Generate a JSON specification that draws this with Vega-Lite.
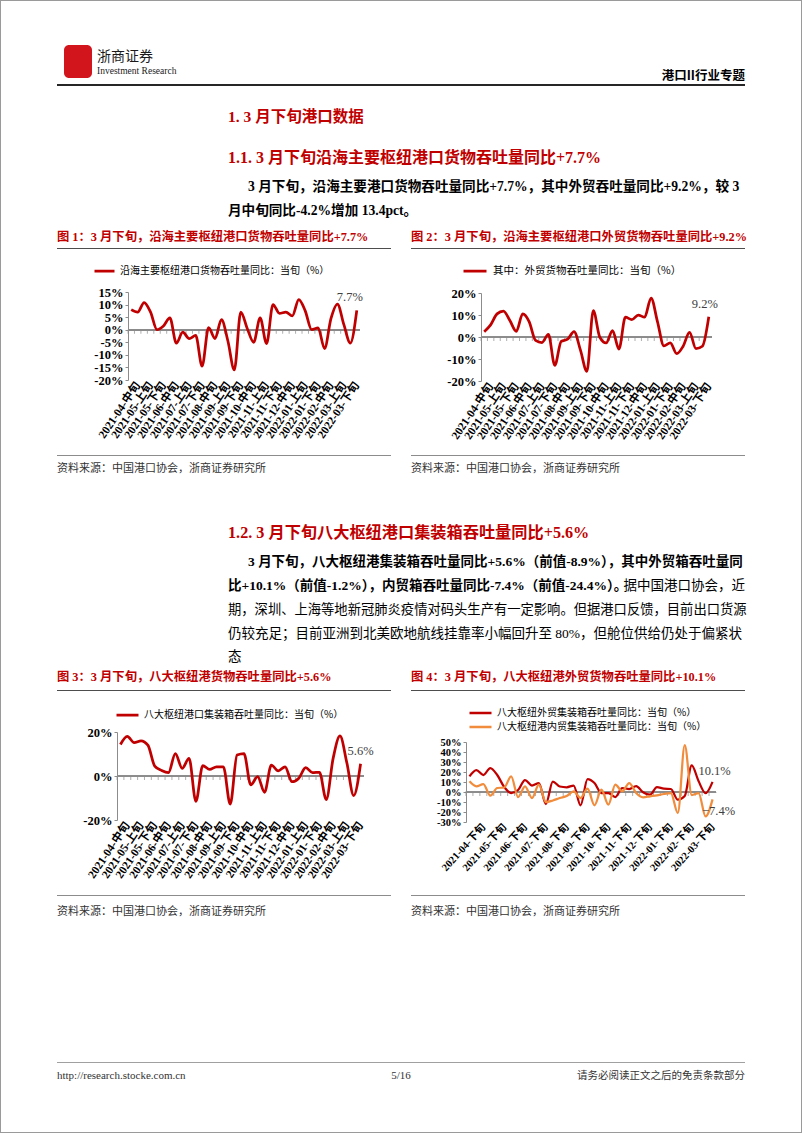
{
"$schema": "https://vega.github.io/schema/vega-lite/v6.json",
"background": "white",
"padding": 0,
"data": {"values": []},
"datasets": {"m": [
{"d":"2021-04-上旬","a":8.0,"b":2.4,"c":14.3,"w":15.7,"n":10.7},
{"d":"2021-04-中旬","a":7.0,"b":5.5,"c":18.0,"w":22,"n":5.7},
{"d":"2021-04-下旬","a":10.8,"b":10.5,"c":15.2,"w":17,"n":8},
{"d":"2021-05-上旬","a":7.0,"b":11.8,"c":16.0,"w":24,"n":-3.7},
{"d":"2021-05-中旬","a":0.0,"b":7.5,"c":14.0,"w":17,"n":4},
{"d":"2021-05-下旬","a":1.5,"b":2.6,"c":4.5,"w":5,"n":4.5},
{"d":"2021-06-上旬","a":4.7,"b":10.5,"c":2.5,"w":-1,"n":15.7},
{"d":"2021-06-中旬","a":-5.3,"b":7.0,"c":1.5,"w":2,"n":-5},
{"d":"2021-06-下旬","a":-1.0,"b":-1.5,"c":10.2,"w":12,"n":5.7},
{"d":"2021-07-上旬","a":-3.5,"b":-2.5,"c":3.5,"w":6.5,"n":-6},
{"d":"2021-07-中旬","a":-2.3,"b":1.2,"c":8.0,"w":9,"n":7.3},
{"d":"2021-07-下旬","a":-14.5,"b":-12.9,"c":-11.5,"w":-12,"n":-10},
{"d":"2021-08-上旬","a":0.8,"b":-2.0,"c":4.7,"w":10.5,"n":-8.5},
{"d":"2021-08-中旬","a":-3.5,"b":-1.0,"c":3.0,"w":5.5,"n":-6},
{"d":"2021-08-下旬","a":4.0,"b":2.5,"c":4.2,"w":4.7,"n":-4},
{"d":"2021-09-上旬","a":-4.5,"b":-6.0,"c":4.2,"w":6.5,"n":0.7},
{"d":"2021-09-中旬","a":-16.0,"b":-15.6,"c":-12.8,"w":-13.3,"n":-6},
{"d":"2021-09-下旬","a":7.0,"b":12.0,"c":9.5,"w":13,"n":3.3},
{"d":"2021-10-上旬","a":0.5,"b":0.0,"c":10.2,"w":9,"n":-13.3},
{"d":"2021-10-中旬","a":-5.0,"b":-2.7,"c":-4.0,"w":-1,"n":2.3},
{"d":"2021-10-下旬","a":4.7,"b":2.9,"c":-0.3,"w":-1,"n":-12.7},
{"d":"2021-11-上旬","a":-5.5,"b":-5.5,"c":-7.4,"w":-5,"n":7.3},
{"d":"2021-11-中旬","a":10.0,"b":9.0,"c":5.0,"w":4,"n":0.7},
{"d":"2021-11-下旬","a":6.5,"b":7.9,"c":2.3,"w":3,"n":9},
{"d":"2021-12-上旬","a":7.0,"b":10.0,"c":4.2,"w":6,"n":-1},
{"d":"2021-12-中旬","a":5.5,"b":9.0,"c":-2.6,"w":-0.3,"n":-5.3},
{"d":"2021-12-下旬","a":12.0,"b":17.7,"c":-1.0,"w":-2.7,"n":-4.3},
{"d":"2022-01-上旬","a":7.5,"b":7.0,"c":3.8,"w":5,"n":-3.3},
{"d":"2022-01-中旬","a":0.0,"b":-4.0,"c":1.5,"w":3.3,"n":-2},
{"d":"2022-01-下旬","a":0.7,"b":-2.7,"c":1.7,"w":3,"n":-1},
{"d":"2022-02-上旬","a":-7.5,"b":-7.6,"c":-10.7,"w":-7.7,"n":-21},
{"d":"2022-02-中旬","a":4.5,"b":-4.2,"c":8.0,"w":-4,"n":47},
{"d":"2022-02-下旬","a":10.2,"b":2.1,"c":18.2,"w":26.7,"n":-3},
{"d":"2022-03-上旬","a":2.0,"b":-5.3,"c":6.0,"w":10.7,"n":-1},
{"d":"2022-03-中旬","a":-5.3,"b":-4.2,"c":-8.9,"w":-1.2,"n":-24.4},
{"d":"2022-03-下旬","a":7.7,"b":9.2,"c":5.6,"w":10.1,"n":-7.4}
]},
"spacing": 0,
"resolve": {"scale": {"color": "independent"}, "legend": {"color": "independent"}},
"config": {
  "view": {"stroke": null},
  "title": {"orient": "top", "anchor": "start", "frame": "group", "font": "Liberation Serif, Noto Sans CJK SC", "fontWeight": "bold", "color": "#000000"},
  "axis": {"title": null, "labelOverlap": false},
  "legend": {"title": null}
},
"hconcat": [
{"width":1,"height":1133,"mark":"text","view":{"fill":"#9a9a9a"}},
{"vconcat": [
{"width":800,"height":1,"mark":"text","view":{"fill":"#9a9a9a"}},
{"width":1,"height":44,"mark":"text"},

{"hconcat":[
 {"width":63,"height":39,"mark":"text"},
 {"width":28,"height":33,"mark":"text","view":{"fill":"#D2151D","cornerRadius":5}},
 {"width":533,"height":39,"mark":"text","title":{"text":"浙商证券","font":"Noto Sans CJK SC","fontSize":14,"fontWeight":"normal","color":"#1a1a1a","dx":5,"offset":-30,"subtitle":"Investment Research","subtitleFont":"Liberation Serif","subtitleFontSize":9.5,"subtitleColor":"#1a1a1a","subtitlePadding":2}},
 {"width":120,"height":39,"mark":"text","title":{"text":"港口II行业专题","anchor":"end","font":"Noto Sans CJK SC","fontSize":12.5,"offset":-37.5}}
],"spacing":0,"bounds":"flush"},

{"hconcat":[{"width":56,"height":2,"mark":"text"},{"width":688,"height":2,"mark":"text","view":{"fill":"#262626"}}],"spacing":0,"bounds":"flush"},

{"hconcat":[{"width":227,"height":44,"mark":"text"},
 {"width":517,"height":44,"mark":"text","title":{"text":"1. 3 月下旬港口数据","fontSize":15.5,"color":"#C00000","offset":-39.5}}],"spacing":0,"bounds":"flush"},

{"hconcat":[{"width":227,"height":40,"mark":"text"},
 {"width":517,"height":40,"mark":"text","title":{"text":"1.1. 3 月下旬沿海主要枢纽港口货物吞吐量同比+7.7%","fontSize":16,"color":"#C00000","offset":-36}}],"spacing":0,"bounds":"flush"},

{"hconcat":[{"width":247,"height":30,"mark":"text"},
 {"width":497,"height":30,"mark":"text","title":{"text":"3 月下旬，沿海主要港口货物吞吐量同比+7.7%，其中外贸吞吐量同比+9.2%，较 3","fontSize":13.6,"offset":-24}}],"spacing":0,"bounds":"flush"},

{"hconcat":[{"width":227,"height":25,"mark":"text"},
 {"width":517,"height":25,"mark":"text","title":{"text":"月中旬同比-4.2%增加 13.4pct。","fontSize":13.6,"offset":-18}}],"spacing":0,"bounds":"flush"},

{"hconcat":[{"width":56,"height":23,"mark":"text"},
 {"width":334,"height":23,"mark":"text","title":{"text":"图 1：3 月下旬，沿海主要枢纽港口货物吞吐量同比+7.7%","fontSize":12.3,"color":"#C00000","offset":-18.5}},
 {"width":20,"height":23,"mark":"text"},
 {"width":334,"height":23,"mark":"text","title":{"text":"图 2：3 月下旬，沿海主要枢纽港口外贸货物吞吐量同比+9.2%","fontSize":12.3,"color":"#C00000","offset":-18.5}}],"spacing":0,"bounds":"flush"},

{"hconcat":[{"width":56,"height":1,"mark":"text"},{"width":334,"height":1,"mark":"text","view":{"fill":"#4d4d4d"}},{"width":20,"height":1,"mark":"text"},{"width":334,"height":1,"mark":"text","view":{"fill":"#4d4d4d"}}],"spacing":0,"bounds":"flush"},

{"hconcat":[
 {"width":56,"height":206,"mark":"text"},
 {"width":334,"height":206,"data":{"name":"m"},
  "transform":[{"calculate":"format(datum.a, '.1f') + '%'","as":"lab"}],
  "layer":[
   {"mark":{"type":"rule","color":"#8c8c8c","strokeWidth":1,"xOffset":-3.2,"x2Offset":3.2},"encoding":{
     "x":{"datum":"2021-04-上旬","type":"ordinal","axis":{"title":null,"offset":-75,"domain":false,"ticks":false,"labelAngle":-56,"labelAlign":"right","labelBaseline":"middle","labelFont":"Liberation Serif, Noto Sans CJK SC","labelFontWeight":"bold","labelFontSize":11.5,"labelColor":"#000000","labelPadding":3,"labelOverlap":false,"labelBound":false,"labelExpr":"indexof(['2021-04-中旬','2021-05-上旬','2021-05-下旬','2021-06-中旬','2021-07-上旬','2021-07-下旬','2021-08-中旬','2021-09-上旬','2021-09-下旬','2021-10-中旬','2021-11-上旬','2021-11-下旬','2021-12-中旬','2022-01-上旬','2022-01-下旬','2022-02-中旬','2022-03-上旬','2022-03-下旬'], datum.value) >= 0 ? datum.value : ''"}},
     "x2":{"datum":"2022-03-下旬"},
     "y":{"datum":0,"type":"quantitative","axis":{"title":null,"offset":-71,"values":[-20,-15,-10,-5,0,5,10,15],"labelExpr":"datum.value + '%'","labelOverlap":false,"grid":false,"domainColor":"#8c8c8c","tickColor":"#8c8c8c","tickSize":3,"labelFont":"Liberation Serif","labelFontWeight":"bold","labelFontSize":12.5,"labelColor":"#000000","labelPadding":2}}}},
   {"mark":{"type":"tick","orient":"vertical","size":4,"thickness":1,"color":"#8c8c8c","yOffset":2,"xOffset":-3.2},"encoding":{
     "x":{"field":"d","type":"ordinal","sort":null,"axis":{"title":null,"offset":-75,"domain":false,"ticks":false,"labelAngle":-56,"labelAlign":"right","labelBaseline":"middle","labelFont":"Liberation Serif, Noto Sans CJK SC","labelFontWeight":"bold","labelFontSize":11.5,"labelColor":"#000000","labelPadding":3,"labelOverlap":false,"labelBound":false,"labelExpr":"indexof(['2021-04-中旬','2021-05-上旬','2021-05-下旬','2021-06-中旬','2021-07-上旬','2021-07-下旬','2021-08-中旬','2021-09-上旬','2021-09-下旬','2021-10-中旬','2021-11-上旬','2021-11-下旬','2021-12-中旬','2022-01-上旬','2022-01-下旬','2022-02-中旬','2022-03-上旬','2022-03-下旬'], datum.value) >= 0 ? datum.value : ''"}},
     "y":{"datum":0,"type":"quantitative","axis":{"title":null,"offset":-71,"values":[-20,-15,-10,-5,0,5,10,15],"labelExpr":"datum.value + '%'","labelOverlap":false,"grid":false,"domainColor":"#8c8c8c","tickColor":"#8c8c8c","tickSize":3,"labelFont":"Liberation Serif","labelFontWeight":"bold","labelFontSize":12.5,"labelColor":"#000000","labelPadding":2}}}},
   {"mark":{"type":"line","interpolate":"monotone","strokeWidth":2.75},"encoding":{
     "x":{"field":"d","type":"ordinal","sort":null,"scale":{"type":"point","padding":0.5,"range":[71,303],"domain":["2021-04-上旬","2021-04-中旬","2021-04-下旬","2021-05-上旬","2021-05-中旬","2021-05-下旬","2021-06-上旬","2021-06-中旬","2021-06-下旬","2021-07-上旬","2021-07-中旬","2021-07-下旬","2021-08-上旬","2021-08-中旬","2021-08-下旬","2021-09-上旬","2021-09-中旬","2021-09-下旬","2021-10-上旬","2021-10-中旬","2021-10-下旬","2021-11-上旬","2021-11-中旬","2021-11-下旬","2021-12-上旬","2021-12-中旬","2021-12-下旬","2022-01-上旬","2022-01-中旬","2022-01-下旬","2022-02-上旬","2022-02-中旬","2022-02-下旬","2022-03-上旬","2022-03-中旬","2022-03-下旬"]},"axis":{"title":null,"offset":-75,"domain":false,"ticks":false,"labelAngle":-56,"labelAlign":"right","labelBaseline":"middle","labelFont":"Liberation Serif, Noto Sans CJK SC","labelFontWeight":"bold","labelFontSize":11.5,"labelColor":"#000000","labelPadding":3,"labelOverlap":false,"labelBound":false,"labelExpr":"indexof(['2021-04-中旬','2021-05-上旬','2021-05-下旬','2021-06-中旬','2021-07-上旬','2021-07-下旬','2021-08-中旬','2021-09-上旬','2021-09-下旬','2021-10-中旬','2021-11-上旬','2021-11-下旬','2021-12-中旬','2022-01-上旬','2022-01-下旬','2022-02-中旬','2022-03-上旬','2022-03-下旬'], datum.value) >= 0 ? datum.value : ''"}},
     "y":{"field":"a","type":"quantitative","scale":{"domain":[-20,15],"nice":false,"range":[131,43]},"axis":{"title":null,"offset":-71,"values":[-20,-15,-10,-5,0,5,10,15],"labelExpr":"datum.value + '%'","labelOverlap":false,"grid":false,"domainColor":"#8c8c8c","tickColor":"#8c8c8c","tickSize":3,"labelFont":"Liberation Serif","labelFontWeight":"bold","labelFontSize":12.5,"labelColor":"#000000","labelPadding":2}},
     "color":{"datum":"沿海主要枢纽港口货物吞吐量同比：当旬（%）","scale":{"range":["#C00000"]},"legend":{"orient":"none","legendX":36,"legendY":16,"title":null,"symbolType":"stroke","symbolStrokeWidth":2.75,"symbolSize":400,"clipHeight":12,"labelFont":"Noto Sans CJK SC","labelFontSize":10,"labelColor":"#000000","labelLimit":400,"padding":0,"labelOffset":4}}
   }},
   {"mark":{"type":"text","font":"Liberation Serif","fontSize":12.5,"color":"#404040","dx":-7,"dy":-13},"encoding":{
     "x":{"field":"d","type":"ordinal","sort":null,"axis":{"title":null,"offset":-75,"domain":false,"ticks":false,"labelAngle":-56,"labelAlign":"right","labelBaseline":"middle","labelFont":"Liberation Serif, Noto Sans CJK SC","labelFontWeight":"bold","labelFontSize":11.5,"labelColor":"#000000","labelPadding":3,"labelOverlap":false,"labelBound":false,"labelExpr":"indexof(['2021-04-中旬','2021-05-上旬','2021-05-下旬','2021-06-中旬','2021-07-上旬','2021-07-下旬','2021-08-中旬','2021-09-上旬','2021-09-下旬','2021-10-中旬','2021-11-上旬','2021-11-下旬','2021-12-中旬','2022-01-上旬','2022-01-下旬','2022-02-中旬','2022-03-上旬','2022-03-下旬'], datum.value) >= 0 ? datum.value : ''"}},
     "y":{"field":"a","type":"quantitative","axis":{"title":null,"offset":-71,"values":[-20,-15,-10,-5,0,5,10,15],"labelExpr":"datum.value + '%'","labelOverlap":false,"grid":false,"domainColor":"#8c8c8c","tickColor":"#8c8c8c","tickSize":3,"labelFont":"Liberation Serif","labelFontWeight":"bold","labelFontSize":12.5,"labelColor":"#000000","labelPadding":2}},
     "text":{"condition":{"test":"datum.d == '2022-03-下旬'","field":"lab"},"value":""}}}
  ]},
 {"width":20,"height":206,"mark":"text"},
 {"width":334,"height":206,"data":{"name":"m"},
  "transform":[{"calculate":"format(datum.b, '.1f') + '%'","as":"lab"}],
  "layer":[
   {"mark":{"type":"rule","color":"#8c8c8c","strokeWidth":1,"xOffset":-3.2,"x2Offset":3.2},"encoding":{
     "x":{"datum":"2021-04-上旬","type":"ordinal","axis":{"title":null,"offset":-74,"domain":false,"ticks":false,"labelAngle":-56,"labelAlign":"right","labelBaseline":"middle","labelFont":"Liberation Serif, Noto Sans CJK SC","labelFontWeight":"bold","labelFontSize":11.5,"labelColor":"#000000","labelPadding":3,"labelOverlap":false,"labelBound":false,"labelExpr":"indexof(['2021-04-中旬','2021-05-上旬','2021-05-下旬','2021-06-中旬','2021-07-上旬','2021-07-下旬','2021-08-中旬','2021-09-上旬','2021-09-下旬','2021-10-中旬','2021-11-上旬','2021-11-下旬','2021-12-中旬','2022-01-上旬','2022-01-下旬','2022-02-中旬','2022-03-上旬','2022-03-下旬'], datum.value) >= 0 ? datum.value : ''"}},
     "x2":{"datum":"2022-03-下旬"},
     "y":{"datum":0,"type":"quantitative","axis":{"title":null,"offset":-70,"values":[-20,-10,0,10,20],"labelExpr":"datum.value + '%'","labelOverlap":false,"grid":false,"domainColor":"#8c8c8c","tickColor":"#8c8c8c","tickSize":3,"labelFont":"Liberation Serif","labelFontWeight":"bold","labelFontSize":12.5,"labelColor":"#000000","labelPadding":2}}}},
   {"mark":{"type":"tick","orient":"vertical","size":4,"thickness":1,"color":"#8c8c8c","yOffset":2,"xOffset":-3.2},"encoding":{
     "x":{"field":"d","type":"ordinal","sort":null,"axis":{"title":null,"offset":-74,"domain":false,"ticks":false,"labelAngle":-56,"labelAlign":"right","labelBaseline":"middle","labelFont":"Liberation Serif, Noto Sans CJK SC","labelFontWeight":"bold","labelFontSize":11.5,"labelColor":"#000000","labelPadding":3,"labelOverlap":false,"labelBound":false,"labelExpr":"indexof(['2021-04-中旬','2021-05-上旬','2021-05-下旬','2021-06-中旬','2021-07-上旬','2021-07-下旬','2021-08-中旬','2021-09-上旬','2021-09-下旬','2021-10-中旬','2021-11-上旬','2021-11-下旬','2021-12-中旬','2022-01-上旬','2022-01-下旬','2022-02-中旬','2022-03-上旬','2022-03-下旬'], datum.value) >= 0 ? datum.value : ''"}},
     "y":{"datum":0,"type":"quantitative","axis":{"title":null,"offset":-70,"values":[-20,-10,0,10,20],"labelExpr":"datum.value + '%'","labelOverlap":false,"grid":false,"domainColor":"#8c8c8c","tickColor":"#8c8c8c","tickSize":3,"labelFont":"Liberation Serif","labelFontWeight":"bold","labelFontSize":12.5,"labelColor":"#000000","labelPadding":2}}}},
   {"mark":{"type":"line","interpolate":"monotone","strokeWidth":2.75},"encoding":{
     "x":{"field":"d","type":"ordinal","sort":null,"scale":{"type":"point","padding":0.5,"range":[70,301],"domain":["2021-04-上旬","2021-04-中旬","2021-04-下旬","2021-05-上旬","2021-05-中旬","2021-05-下旬","2021-06-上旬","2021-06-中旬","2021-06-下旬","2021-07-上旬","2021-07-中旬","2021-07-下旬","2021-08-上旬","2021-08-中旬","2021-08-下旬","2021-09-上旬","2021-09-中旬","2021-09-下旬","2021-10-上旬","2021-10-中旬","2021-10-下旬","2021-11-上旬","2021-11-中旬","2021-11-下旬","2021-12-上旬","2021-12-中旬","2021-12-下旬","2022-01-上旬","2022-01-中旬","2022-01-下旬","2022-02-上旬","2022-02-中旬","2022-02-下旬","2022-03-上旬","2022-03-中旬","2022-03-下旬"]},"axis":{"title":null,"offset":-74,"domain":false,"ticks":false,"labelAngle":-56,"labelAlign":"right","labelBaseline":"middle","labelFont":"Liberation Serif, Noto Sans CJK SC","labelFontWeight":"bold","labelFontSize":11.5,"labelColor":"#000000","labelPadding":3,"labelOverlap":false,"labelBound":false,"labelExpr":"indexof(['2021-04-中旬','2021-05-上旬','2021-05-下旬','2021-06-中旬','2021-07-上旬','2021-07-下旬','2021-08-中旬','2021-09-上旬','2021-09-下旬','2021-10-中旬','2021-11-上旬','2021-11-下旬','2021-12-中旬','2022-01-上旬','2022-01-下旬','2022-02-中旬','2022-03-上旬','2022-03-下旬'], datum.value) >= 0 ? datum.value : ''"}},
     "y":{"field":"b","type":"quantitative","scale":{"domain":[-20,20],"nice":false,"range":[132,44]},"axis":{"title":null,"offset":-70,"values":[-20,-10,0,10,20],"labelExpr":"datum.value + '%'","labelOverlap":false,"grid":false,"domainColor":"#8c8c8c","tickColor":"#8c8c8c","tickSize":3,"labelFont":"Liberation Serif","labelFontWeight":"bold","labelFontSize":12.5,"labelColor":"#000000","labelPadding":2}},
     "color":{"datum":"其中：外贸货物吞吐量同比：当旬（%）","scale":{"range":["#C00000"]},"legend":{"orient":"none","legendX":51,"legendY":16,"title":null,"symbolType":"stroke","symbolStrokeWidth":2.75,"symbolSize":529,"clipHeight":12,"labelFont":"Noto Sans CJK SC","labelFontSize":10.5,"labelColor":"#000000","labelLimit":400,"padding":0,"labelOffset":5}}
   }},
   {"mark":{"type":"text","font":"Liberation Serif","fontSize":12.5,"color":"#404040","dx":-4,"dy":-13},"encoding":{
     "x":{"field":"d","type":"ordinal","sort":null,"axis":{"title":null,"offset":-74,"domain":false,"ticks":false,"labelAngle":-56,"labelAlign":"right","labelBaseline":"middle","labelFont":"Liberation Serif, Noto Sans CJK SC","labelFontWeight":"bold","labelFontSize":11.5,"labelColor":"#000000","labelPadding":3,"labelOverlap":false,"labelBound":false,"labelExpr":"indexof(['2021-04-中旬','2021-05-上旬','2021-05-下旬','2021-06-中旬','2021-07-上旬','2021-07-下旬','2021-08-中旬','2021-09-上旬','2021-09-下旬','2021-10-中旬','2021-11-上旬','2021-11-下旬','2021-12-中旬','2022-01-上旬','2022-01-下旬','2022-02-中旬','2022-03-上旬','2022-03-下旬'], datum.value) >= 0 ? datum.value : ''"}},
     "y":{"field":"b","type":"quantitative","axis":{"title":null,"offset":-70,"values":[-20,-10,0,10,20],"labelExpr":"datum.value + '%'","labelOverlap":false,"grid":false,"domainColor":"#8c8c8c","tickColor":"#8c8c8c","tickSize":3,"labelFont":"Liberation Serif","labelFontWeight":"bold","labelFontSize":12.5,"labelColor":"#000000","labelPadding":2}},
     "text":{"condition":{"test":"datum.d == '2022-03-下旬'","field":"lab"},"value":""}}}
  ]}
],"spacing":0,"bounds":"flush","resolve":{"scale":{"color":"independent"},"legend":{"color":"independent"}}},

{"hconcat":[{"width":56,"height":1,"mark":"text"},{"width":334,"height":1,"mark":"text","view":{"fill":"#8c8c8c"}},{"width":20,"height":1,"mark":"text"},{"width":334,"height":1,"mark":"text","view":{"fill":"#8c8c8c"}}],"spacing":0,"bounds":"flush"},

{"hconcat":[{"width":56,"height":20,"mark":"text"},
 {"width":334,"height":20,"mark":"text","title":{"text":"资料来源：中国港口协会，浙商证券研究所","font":"Noto Sans CJK SC","fontSize":11,"fontWeight":"normal","color":"#333333","offset":-18}},
 {"width":20,"height":20,"mark":"text"},
 {"width":334,"height":20,"mark":"text","title":{"text":"资料来源：中国港口协会，浙商证券研究所","font":"Noto Sans CJK SC","fontSize":11,"fontWeight":"normal","color":"#333333","offset":-18}}],"spacing":0,"bounds":"flush"},

{"hconcat":[{"width":227,"height":70,"mark":"text"},
 {"width":517,"height":70,"mark":"text","title":{"text":"1.2. 3 月下旬八大枢纽港口集装箱吞吐量同比+5.6%","fontSize":16.2,"color":"#C00000","offset":-65}}],"spacing":0,"bounds":"flush"},

{"hconcat":[{"width":247,"height":24,"mark":"text"},
 {"width":497,"height":24,"mark":"text","title":{"text":"3 月下旬，八大枢纽港集装箱吞吐量同比+5.6%（前值-8.9%），其中外贸箱吞吐量同","fontSize":13.5,"offset":-22}}],"spacing":0,"bounds":"flush"},

{"hconcat":[{"width":227,"height":24,"mark":"text"},
 {"width":400,"height":24,"mark":"text","title":{"text":"比+10.1%（前值-1.2%），内贸箱吞吐量同比-7.4%（前值-24.4%）。","fontSize":13.5,"offset":-22}},
 {"width":117,"height":24,"mark":"text","title":{"text":"据中国港口协会，近","anchor":"end","fontSize":13.5,"fontWeight":"normal","offset":-22}}],"spacing":0,"bounds":"flush"},

{"hconcat":[{"width":227,"height":24,"mark":"text"},
 {"width":517,"height":24,"mark":"text","title":{"text":"期，深圳、上海等地新冠肺炎疫情对码头生产有一定影响。但据港口反馈，目前出口货源","fontSize":13.3,"fontWeight":"normal","offset":-22}}],"spacing":0,"bounds":"flush"},

{"hconcat":[{"width":227,"height":24,"mark":"text"},
 {"width":517,"height":24,"mark":"text","title":{"text":"仍较充足；目前亚洲到北美欧地航线挂靠率小幅回升至 80%，但舱位供给仍处于偏紧状","fontSize":13.5,"fontWeight":"normal","offset":-22}}],"spacing":0,"bounds":"flush"},

{"hconcat":[{"width":227,"height":24,"mark":"text"},
 {"width":517,"height":24,"mark":"text","title":{"text":"态","fontSize":13.5,"fontWeight":"normal","offset":-21}}],"spacing":0,"bounds":"flush"},

{"hconcat":[{"width":56,"height":24,"mark":"text"},
 {"width":334,"height":24,"mark":"text","title":{"text":"图 3：3 月下旬，八大枢纽港货物吞吐量同比+5.6%","fontSize":12.3,"color":"#C00000","offset":-17.6}},
 {"width":20,"height":24,"mark":"text"},
 {"width":334,"height":24,"mark":"text","title":{"text":"图 4：3 月下旬，八大枢纽港外贸货物吞吐量同比+10.1%","fontSize":12.3,"color":"#C00000","offset":-17.6}}],"spacing":0,"bounds":"flush"},

{"hconcat":[{"width":56,"height":1,"mark":"text"},{"width":334,"height":1,"mark":"text","view":{"fill":"#4d4d4d"}},{"width":20,"height":1,"mark":"text"},{"width":334,"height":1,"mark":"text","view":{"fill":"#4d4d4d"}}],"spacing":0,"bounds":"flush"},

{"hconcat":[
 {"width":56,"height":204,"mark":"text"},
 {"width":334,"height":204,"data":{"name":"m"},
  "transform":[{"calculate":"format(datum.c, '.1f') + '%'","as":"lab"}],
  "layer":[
   {"mark":{"type":"rule","color":"#8c8c8c","strokeWidth":1,"xOffset":-3.4,"x2Offset":3.4},"encoding":{
     "x":{"datum":"2021-04-上旬","type":"ordinal","axis":{"title":null,"offset":-75,"domain":false,"ticks":false,"labelAngle":-56,"labelAlign":"right","labelBaseline":"middle","labelFont":"Liberation Serif, Noto Sans CJK SC","labelFontWeight":"bold","labelFontSize":11.5,"labelColor":"#000000","labelPadding":3,"labelOverlap":false,"labelBound":false,"labelExpr":"indexof(['2021-04-中旬','2021-05-上旬','2021-05-下旬','2021-06-中旬','2021-07-上旬','2021-07-下旬','2021-08-中旬','2021-09-上旬','2021-09-下旬','2021-10-中旬','2021-11-上旬','2021-11-下旬','2021-12-中旬','2022-01-上旬','2022-01-下旬','2022-02-中旬','2022-03-上旬','2022-03-下旬'], datum.value) >= 0 ? datum.value : ''"}},
     "x2":{"datum":"2022-03-下旬"},
     "y":{"datum":0,"type":"quantitative","axis":{"title":null,"offset":-60,"values":[-20,0,20],"labelExpr":"datum.value + '%'","labelOverlap":false,"grid":false,"domainColor":"#8c8c8c","tickColor":"#8c8c8c","tickSize":3,"labelFont":"Liberation Serif","labelFontWeight":"bold","labelFontSize":12.5,"labelColor":"#000000","labelPadding":2}}}},
   {"mark":{"type":"tick","orient":"vertical","size":4,"thickness":1,"color":"#8c8c8c","yOffset":2,"xOffset":-3.4},"encoding":{
     "x":{"field":"d","type":"ordinal","sort":null,"axis":{"title":null,"offset":-75,"domain":false,"ticks":false,"labelAngle":-56,"labelAlign":"right","labelBaseline":"middle","labelFont":"Liberation Serif, Noto Sans CJK SC","labelFontWeight":"bold","labelFontSize":11.5,"labelColor":"#000000","labelPadding":3,"labelOverlap":false,"labelBound":false,"labelExpr":"indexof(['2021-04-中旬','2021-05-上旬','2021-05-下旬','2021-06-中旬','2021-07-上旬','2021-07-下旬','2021-08-中旬','2021-09-上旬','2021-09-下旬','2021-10-中旬','2021-11-上旬','2021-11-下旬','2021-12-中旬','2022-01-上旬','2022-01-下旬','2022-02-中旬','2022-03-上旬','2022-03-下旬'], datum.value) >= 0 ? datum.value : ''"}},
     "y":{"datum":0,"type":"quantitative","axis":{"title":null,"offset":-60,"values":[-20,0,20],"labelExpr":"datum.value + '%'","labelOverlap":false,"grid":false,"domainColor":"#8c8c8c","tickColor":"#8c8c8c","tickSize":3,"labelFont":"Liberation Serif","labelFontWeight":"bold","labelFontSize":12.5,"labelColor":"#000000","labelPadding":2}}}},
   {"mark":{"type":"line","interpolate":"monotone","strokeWidth":2.75},"encoding":{
     "x":{"field":"d","type":"ordinal","sort":null,"scale":{"type":"point","padding":0.5,"range":[60,307],"domain":["2021-04-上旬","2021-04-中旬","2021-04-下旬","2021-05-上旬","2021-05-中旬","2021-05-下旬","2021-06-上旬","2021-06-中旬","2021-06-下旬","2021-07-上旬","2021-07-中旬","2021-07-下旬","2021-08-上旬","2021-08-中旬","2021-08-下旬","2021-09-上旬","2021-09-中旬","2021-09-下旬","2021-10-上旬","2021-10-中旬","2021-10-下旬","2021-11-上旬","2021-11-中旬","2021-11-下旬","2021-12-上旬","2021-12-中旬","2021-12-下旬","2022-01-上旬","2022-01-中旬","2022-01-下旬","2022-02-上旬","2022-02-中旬","2022-02-下旬","2022-03-上旬","2022-03-中旬","2022-03-下旬"]},"axis":{"title":null,"offset":-75,"domain":false,"ticks":false,"labelAngle":-56,"labelAlign":"right","labelBaseline":"middle","labelFont":"Liberation Serif, Noto Sans CJK SC","labelFontWeight":"bold","labelFontSize":11.5,"labelColor":"#000000","labelPadding":3,"labelOverlap":false,"labelBound":false,"labelExpr":"indexof(['2021-04-中旬','2021-05-上旬','2021-05-下旬','2021-06-中旬','2021-07-上旬','2021-07-下旬','2021-08-中旬','2021-09-上旬','2021-09-下旬','2021-10-中旬','2021-11-上旬','2021-11-下旬','2021-12-中旬','2022-01-上旬','2022-01-下旬','2022-02-中旬','2022-03-上旬','2022-03-下旬'], datum.value) >= 0 ? datum.value : ''"}},
     "y":{"field":"c","type":"quantitative","scale":{"domain":[-20,20],"nice":false,"range":[129,41]},"axis":{"title":null,"offset":-60,"values":[-20,0,20],"labelExpr":"datum.value + '%'","labelOverlap":false,"grid":false,"domainColor":"#8c8c8c","tickColor":"#8c8c8c","tickSize":3,"labelFont":"Liberation Serif","labelFontWeight":"bold","labelFontSize":12.5,"labelColor":"#000000","labelPadding":2}},
     "color":{"datum":"八大枢纽港口集装箱吞吐量同比：当旬（%）","scale":{"range":["#C00000"]},"legend":{"orient":"none","legendX":58,"legendY":18,"title":null,"symbolType":"stroke","symbolStrokeWidth":2.75,"symbolSize":484,"clipHeight":12,"labelFont":"Noto Sans CJK SC","labelFontSize":10,"labelColor":"#000000","labelLimit":400,"padding":0,"labelOffset":4}}
   }},
   {"mark":{"type":"text","font":"Liberation Serif","fontSize":12.5,"color":"#404040","dx":0,"dy":-13},"encoding":{
     "x":{"field":"d","type":"ordinal","sort":null,"axis":{"title":null,"offset":-75,"domain":false,"ticks":false,"labelAngle":-56,"labelAlign":"right","labelBaseline":"middle","labelFont":"Liberation Serif, Noto Sans CJK SC","labelFontWeight":"bold","labelFontSize":11.5,"labelColor":"#000000","labelPadding":3,"labelOverlap":false,"labelBound":false,"labelExpr":"indexof(['2021-04-中旬','2021-05-上旬','2021-05-下旬','2021-06-中旬','2021-07-上旬','2021-07-下旬','2021-08-中旬','2021-09-上旬','2021-09-下旬','2021-10-中旬','2021-11-上旬','2021-11-下旬','2021-12-中旬','2022-01-上旬','2022-01-下旬','2022-02-中旬','2022-03-上旬','2022-03-下旬'], datum.value) >= 0 ? datum.value : ''"}},
     "y":{"field":"c","type":"quantitative","axis":{"title":null,"offset":-60,"values":[-20,0,20],"labelExpr":"datum.value + '%'","labelOverlap":false,"grid":false,"domainColor":"#8c8c8c","tickColor":"#8c8c8c","tickSize":3,"labelFont":"Liberation Serif","labelFontWeight":"bold","labelFontSize":12.5,"labelColor":"#000000","labelPadding":2}},
     "text":{"condition":{"test":"datum.d == '2022-03-下旬'","field":"lab"},"value":""}}}
  ]},
 {"width":20,"height":204,"mark":"text"},
 {"width":334,"height":204,"data":{"name":"m"},
  "transform":[{"calculate":"format(datum.w, '.1f') + '%'","as":"labw"},{"calculate":"format(datum.n, '.1f') + '%'","as":"labn"}],
  "layer":[
   {"mark":{"type":"rule","color":"#8c8c8c","strokeWidth":1,"xOffset":-3.5,"x2Offset":3.5},"encoding":{
     "x":{"datum":"2021-04-上旬","type":"ordinal","axis":{"title":null,"offset":-73,"domain":false,"ticks":false,"labelAngle":-48,"labelAlign":"right","labelBaseline":"middle","labelFont":"Liberation Serif, Noto Sans CJK SC","labelFontWeight":"bold","labelFontSize":10.5,"labelColor":"#000000","labelPadding":3,"labelOverlap":false,"labelBound":false,"labelExpr":"indexof(datum.value, '下旬') >= 0 ? datum.value : ''"}},
     "x2":{"datum":"2022-03-下旬"},
     "y":{"datum":0,"type":"quantitative","axis":{"title":null,"offset":-55,"values":[-30,-20,-10,0,10,20,30,40,50],"labelExpr":"datum.value + '%'","labelOverlap":false,"grid":false,"domainColor":"#8c8c8c","tickColor":"#8c8c8c","tickSize":3,"labelFont":"Liberation Serif","labelFontWeight":"bold","labelFontSize":10.5,"labelColor":"#000000","labelPadding":2}}}},
   {"mark":{"type":"tick","orient":"vertical","size":4,"thickness":1,"color":"#8c8c8c","yOffset":2,"xOffset":-3.5},"encoding":{
     "x":{"field":"d","type":"ordinal","sort":null,"axis":{"title":null,"offset":-73,"domain":false,"ticks":false,"labelAngle":-48,"labelAlign":"right","labelBaseline":"middle","labelFont":"Liberation Serif, Noto Sans CJK SC","labelFontWeight":"bold","labelFontSize":10.5,"labelColor":"#000000","labelPadding":3,"labelOverlap":false,"labelBound":false,"labelExpr":"indexof(datum.value, '下旬') >= 0 ? datum.value : ''"}},
     "y":{"datum":0,"type":"quantitative","axis":{"title":null,"offset":-55,"values":[-30,-20,-10,0,10,20,30,40,50],"labelExpr":"datum.value + '%'","labelOverlap":false,"grid":false,"domainColor":"#8c8c8c","tickColor":"#8c8c8c","tickSize":3,"labelFont":"Liberation Serif","labelFontWeight":"bold","labelFontSize":10.5,"labelColor":"#000000","labelPadding":2}}}},
   {"mark":{"type":"line","interpolate":"monotone","strokeWidth":2.25},"encoding":{
     "x":{"field":"d","type":"ordinal","sort":null,"scale":{"type":"point","padding":0.5,"range":[55,305],"domain":["2021-04-上旬","2021-04-中旬","2021-04-下旬","2021-05-上旬","2021-05-中旬","2021-05-下旬","2021-06-上旬","2021-06-中旬","2021-06-下旬","2021-07-上旬","2021-07-中旬","2021-07-下旬","2021-08-上旬","2021-08-中旬","2021-08-下旬","2021-09-上旬","2021-09-中旬","2021-09-下旬","2021-10-上旬","2021-10-中旬","2021-10-下旬","2021-11-上旬","2021-11-中旬","2021-11-下旬","2021-12-上旬","2021-12-中旬","2021-12-下旬","2022-01-上旬","2022-01-中旬","2022-01-下旬","2022-02-上旬","2022-02-中旬","2022-02-下旬","2022-03-上旬","2022-03-中旬","2022-03-下旬"]},"axis":{"title":null,"offset":-73,"domain":false,"ticks":false,"labelAngle":-48,"labelAlign":"right","labelBaseline":"middle","labelFont":"Liberation Serif, Noto Sans CJK SC","labelFontWeight":"bold","labelFontSize":10.5,"labelColor":"#000000","labelPadding":3,"labelOverlap":false,"labelBound":false,"labelExpr":"indexof(datum.value, '下旬') >= 0 ? datum.value : ''"}},
     "y":{"field":"w","type":"quantitative","scale":{"domain":[-30,50],"nice":false,"range":[131,51]},"axis":{"title":null,"offset":-55,"values":[-30,-20,-10,0,10,20,30,40,50],"labelExpr":"datum.value + '%'","labelOverlap":false,"grid":false,"domainColor":"#8c8c8c","tickColor":"#8c8c8c","tickSize":3,"labelFont":"Liberation Serif","labelFontWeight":"bold","labelFontSize":10.5,"labelColor":"#000000","labelPadding":2}},
     "color":{"datum":"八大枢纽外贸集装箱吞吐量同比：当旬（%）","scale":{"domain":["八大枢纽外贸集装箱吞吐量同比：当旬（%）","八大枢纽港内贸集装箱吞吐量同比：当旬（%）"],"range":["#C00000","#F08C3C"]},"legend":{"orient":"none","legendX":57,"legendY":16,"title":null,"symbolType":"stroke","symbolStrokeWidth":2.5,"symbolSize":484,"clipHeight":12,"rowPadding":2,"labelFont":"Noto Sans CJK SC","labelFontSize":10,"labelColor":"#000000","labelLimit":400,"padding":0,"labelOffset":4}}
   }},
   {"mark":{"type":"line","interpolate":"monotone","strokeWidth":2.25},"encoding":{
     "x":{"field":"d","type":"ordinal","sort":null,"axis":{"title":null,"offset":-73,"domain":false,"ticks":false,"labelAngle":-48,"labelAlign":"right","labelBaseline":"middle","labelFont":"Liberation Serif, Noto Sans CJK SC","labelFontWeight":"bold","labelFontSize":10.5,"labelColor":"#000000","labelPadding":3,"labelOverlap":false,"labelBound":false,"labelExpr":"indexof(datum.value, '下旬') >= 0 ? datum.value : ''"}},
     "y":{"field":"n","type":"quantitative","axis":{"title":null,"offset":-55,"values":[-30,-20,-10,0,10,20,30,40,50],"labelExpr":"datum.value + '%'","labelOverlap":false,"grid":false,"domainColor":"#8c8c8c","tickColor":"#8c8c8c","tickSize":3,"labelFont":"Liberation Serif","labelFontWeight":"bold","labelFontSize":10.5,"labelColor":"#000000","labelPadding":2}},
     "color":{"datum":"八大枢纽港内贸集装箱吞吐量同比：当旬（%）"}
   }},
   {"mark":{"type":"text","font":"Liberation Serif","fontSize":12.5,"color":"#404040","dx":2,"dy":-11},"encoding":{
     "x":{"field":"d","type":"ordinal","sort":null,"axis":{"title":null,"offset":-73,"domain":false,"ticks":false,"labelAngle":-48,"labelAlign":"right","labelBaseline":"middle","labelFont":"Liberation Serif, Noto Sans CJK SC","labelFontWeight":"bold","labelFontSize":10.5,"labelColor":"#000000","labelPadding":3,"labelOverlap":false,"labelBound":false,"labelExpr":"indexof(datum.value, '下旬') >= 0 ? datum.value : ''"}},
     "y":{"field":"w","type":"quantitative","axis":{"title":null,"offset":-55,"values":[-30,-20,-10,0,10,20,30,40,50],"labelExpr":"datum.value + '%'","labelOverlap":false,"grid":false,"domainColor":"#8c8c8c","tickColor":"#8c8c8c","tickSize":3,"labelFont":"Liberation Serif","labelFontWeight":"bold","labelFontSize":10.5,"labelColor":"#000000","labelPadding":2}},
     "text":{"condition":{"test":"datum.d == '2022-03-下旬'","field":"labw"},"value":""}}},
   {"mark":{"type":"text","font":"Liberation Serif","fontSize":12.5,"color":"#404040","dx":6,"dy":12},"encoding":{
     "x":{"field":"d","type":"ordinal","sort":null,"axis":{"title":null,"offset":-73,"domain":false,"ticks":false,"labelAngle":-48,"labelAlign":"right","labelBaseline":"middle","labelFont":"Liberation Serif, Noto Sans CJK SC","labelFontWeight":"bold","labelFontSize":10.5,"labelColor":"#000000","labelPadding":3,"labelOverlap":false,"labelBound":false,"labelExpr":"indexof(datum.value, '下旬') >= 0 ? datum.value : ''"}},
     "y":{"field":"n","type":"quantitative","axis":{"title":null,"offset":-55,"values":[-30,-20,-10,0,10,20,30,40,50],"labelExpr":"datum.value + '%'","labelOverlap":false,"grid":false,"domainColor":"#8c8c8c","tickColor":"#8c8c8c","tickSize":3,"labelFont":"Liberation Serif","labelFontWeight":"bold","labelFontSize":10.5,"labelColor":"#000000","labelPadding":2}},
     "text":{"condition":{"test":"datum.d == '2022-03-下旬'","field":"labn"},"value":""}}}
  ]}
],"spacing":0,"bounds":"flush","resolve":{"scale":{"color":"independent"},"legend":{"color":"independent"}}},

{"hconcat":[{"width":56,"height":1,"mark":"text"},{"width":334,"height":1,"mark":"text","view":{"fill":"#8c8c8c"}},{"width":20,"height":1,"mark":"text"},{"width":334,"height":1,"mark":"text","view":{"fill":"#8c8c8c"}}],"spacing":0,"bounds":"flush"},

{"hconcat":[{"width":56,"height":22,"mark":"text"},
 {"width":334,"height":22,"mark":"text","title":{"text":"资料来源：中国港口协会，浙商证券研究所","font":"Noto Sans CJK SC","fontSize":11,"fontWeight":"normal","color":"#333333","offset":-21}},
 {"width":20,"height":22,"mark":"text"},
 {"width":334,"height":22,"mark":"text","title":{"text":"资料来源：中国港口协会，浙商证券研究所","font":"Noto Sans CJK SC","fontSize":11,"fontWeight":"normal","color":"#333333","offset":-21}}],"spacing":0,"bounds":"flush"},

{"width":1,"height":144,"mark":"text"},

{"hconcat":[{"width":56,"height":1,"mark":"text"},{"width":688,"height":1,"mark":"text","view":{"fill":"#a0a0a0"}}],"spacing":0,"bounds":"flush"},

{"hconcat":[{"width":56,"height":20,"mark":"text"},
 {"width":229,"height":20,"mark":"text","title":{"text":"http://research.stocke.com.cn","font":"Liberation Serif","fontSize":11,"fontWeight":"normal","color":"#333333","offset":-18}},
 {"width":230,"height":20,"mark":"text","title":{"text":"5/16","anchor":"middle","font":"Liberation Serif","fontSize":11,"fontWeight":"normal","color":"#333333","offset":-18}},
 {"width":229,"height":20,"mark":"text","title":{"text":"请务必阅读正文之后的免责条款部分","anchor":"end","font":"Noto Sans CJK SC","fontSize":10.5,"fontWeight":"normal","color":"#333333","offset":-18}}],"spacing":0,"bounds":"flush"},

{"width":1,"height":49,"mark":"text"},
{"width":800,"height":1,"mark":"text","view":{"fill":"#9a9a9a"}}
],"spacing":0,"resolve":{"scale":{"color":"independent"},"legend":{"color":"independent"}}},
{"width":1,"height":1133,"mark":"text","view":{"fill":"#9a9a9a"}}
]
}
